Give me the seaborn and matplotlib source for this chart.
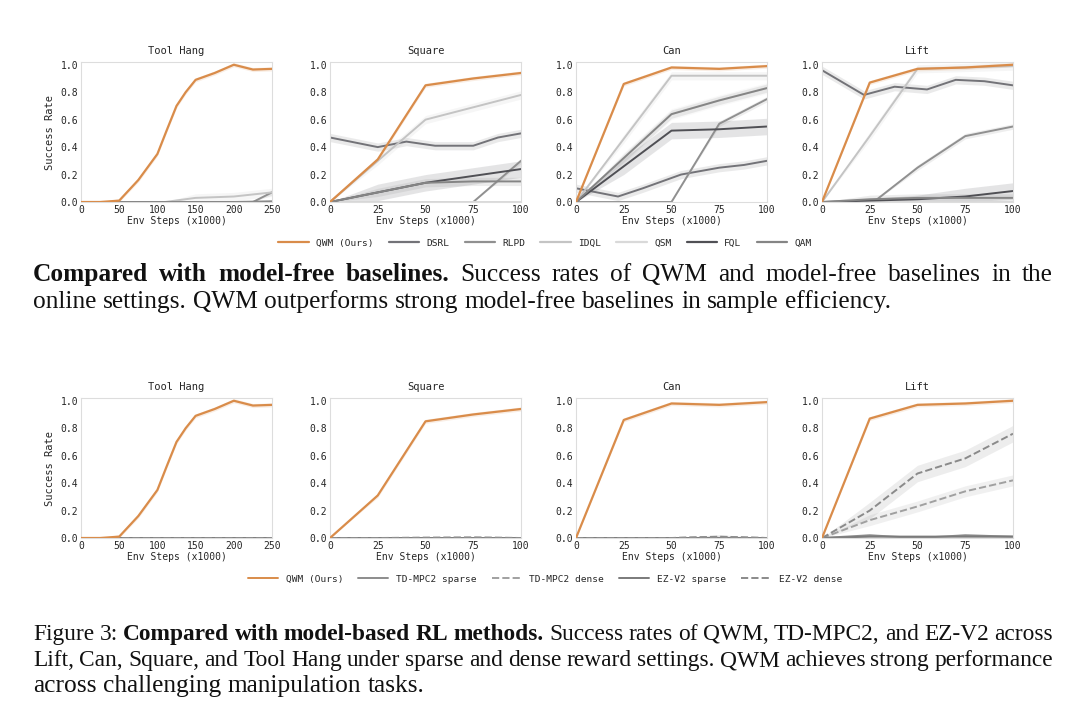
import numpy as np
import pandas as pd
import matplotlib
matplotlib.use("Agg")
import matplotlib.pyplot as plt
import seaborn as sns

sns.set_theme(style="white")
plt.rcParams['font.family'] = ['DejaVu Sans Mono']

tasks = ["Tool Hang", "Square", "Can", "Lift"]
x100 = [0, 25, 50, 75, 100]

# QWM (same in both rows)
qwm_x = {"Tool Hang": [0, 25, 50, 75, 100, 112, 125, 137, 150, 175, 200, 225, 250],
         "Square": x100, "Can": x100, "Lift": x100}
qwm_y = {"Tool Hang": [0, 0, 0.01, 0.16, 0.35, 0.52, 0.70, 0.80, 0.89, 0.94, 1.0, 0.965, 0.97],
         "Square": [0, 0.31, 0.85, 0.90, 0.94],
         "Can": [0, 0.86, 0.98, 0.97, 0.99],
         "Lift": [0, 0.87, 0.97, 0.98, 1.0]}

mf_methods = ["QWM (Ours)", "DSRL", "RLPD", "IDQL", "QSM", "FQL", "QAM"]
mf_colors = ["#d98c4a", "#737378", "#909090", "#c4c4c4", "#d9d9d9", "#505055", "#858585"]

th_x = [0, 50, 100, 110, 150, 200, 250]
mf = {
    "Tool Hang": {
        "DSRL": (th_x, [0, 0, 0, 0, 0, 0, 0]),
        "RLPD": ([0, 100, 225, 250], [0, 0, 0, 0.07]),
        "IDQL": (th_x, [0, 0, 0, 0, 0.03, 0.04, 0.07]),
        "QSM": (th_x, [0, 0, 0, 0, 0, 0, 0]),
        "FQL": (th_x, [0, 0, 0, 0, 0, 0, 0]),
        "QAM": (th_x, [0, 0, 0, 0, 0, 0, 0.005]),
    },
    "Square": {
        "DSRL": ([0, 25, 40, 55, 75, 88, 100], [0.47, 0.40, 0.44, 0.41, 0.41, 0.47, 0.50]),
        "RLPD": ([0, 50, 75, 100], [0, 0, 0, 0.30]),
        "IDQL": (x100, [0, 0.30, 0.60, 0.69, 0.78]),
        "QSM": (x100, [0, 0, 0, 0, 0]),
        "FQL": (x100, [0, 0.07, 0.14, 0.19, 0.24]),
        "QAM": (x100, [0, 0.07, 0.14, 0.15, 0.15]),
    },
    "Can": {
        "DSRL": ([0, 22, 35, 55, 75, 88, 100], [0.10, 0.04, 0.10, 0.20, 0.25, 0.27, 0.30]),
        "RLPD": ([0, 25, 50, 75, 100], [0, 0, 0, 0.57, 0.75]),
        "IDQL": (x100, [0, 0.46, 0.92, 0.92, 0.92]),
        "QSM": (x100, [0, 0.32, 0.64, 0.74, 0.83]),
        "FQL": (x100, [0, 0.26, 0.52, 0.53, 0.55]),
        "QAM": (x100, [0, 0.32, 0.64, 0.74, 0.83]),
    },
    "Lift": {
        "DSRL": ([0, 22, 38, 55, 70, 85, 100], [0.96, 0.78, 0.84, 0.82, 0.89, 0.88, 0.85]),
        "RLPD": ([0, 27, 50, 75, 100], [0, 0, 0.25, 0.48, 0.55]),
        "IDQL": (x100, [0, 0.48, 0.97, 0.98, 0.99]),
        "QSM": (x100, [0, 0, 0, 0, 0]),
        "FQL": (x100, [0, 0.01, 0.02, 0.04, 0.08]),
        "QAM": (x100, [0, 0.02, 0.03, 0.03, 0.03]),
    },
}
mf_band = {"DSRL": 0.03, "RLPD": 0.02, "IDQL": 0.03, "QSM": 0.04, "FQL": 0.06, "QAM": 0.03}

mb_methods = ["QWM (Ours)", "TD-MPC2 sparse", "TD-MPC2 dense", "EZ-V2 sparse", "EZ-V2 dense"]
mb_colors = ["#d98c4a", "#8c8c8c", "#a0a0a0", "#7a7a7a", "#8a8a8a"]
mb_styles = ["-", "-", "--", "-", "--"]
mb = {
    "Tool Hang": {"TD-MPC2 sparse": ([0, 250], [0, 0]), "TD-MPC2 dense": ([0, 250], [0, 0]),
                  "EZ-V2 sparse": ([0, 250], [0, 0]), "EZ-V2 dense": ([0, 250], [0, 0])},
    "Square": {"TD-MPC2 sparse": (x100, [0, 0, 0, 0, 0]), "TD-MPC2 dense": (x100, [0, 0, 0, 0.004, 0]),
               "EZ-V2 sparse": (x100, [0, 0, 0, 0, 0]), "EZ-V2 dense": (x100, [0, 0, 0.003, 0.003, 0])},
    "Can": {"TD-MPC2 sparse": (x100, [0, 0, 0, 0, 0]), "TD-MPC2 dense": (x100, [0, 0, 0, 0.01, 0]),
            "EZ-V2 sparse": (x100, [0, 0, 0, 0, 0]), "EZ-V2 dense": (x100, [0, 0, 0, 0.008, 0])},
    "Lift": {"TD-MPC2 sparse": (x100, [0, 0.02, 0.0, 0.02, 0.01]),
             "TD-MPC2 dense": (x100, [0, 0.13, 0.23, 0.34, 0.42]),
             "EZ-V2 sparse": (x100, [0, 0.01, 0.01, 0.01, 0.01]),
             "EZ-V2 dense": (x100, [0, 0.20, 0.47, 0.58, 0.76])},
}
mb_band = {"TD-MPC2 sparse": 0.01, "TD-MPC2 dense": 0.04, "EZ-V2 sparse": 0.01, "EZ-V2 dense": 0.06}

W, H = 1080, 720
fig = plt.figure(figsize=(10.8, 7.2), dpi=100)
lefts = [81, 330, 576, 822]
aw = 191


def style_ax(ax, task, first):
    ax.set_title(task, fontsize=7.5, pad=6)
    ax.set_ylim(0, 1.02)
    ax.set_yticks([0, 0.2, 0.4, 0.6, 0.8, 1.0])
    if task == "Tool Hang":
        ax.set_xlim(0, 250); ax.set_xticks([0, 50, 100, 150, 200, 250])
    else:
        ax.set_xlim(0, 100); ax.set_xticks(x100)
    ax.tick_params(labelsize=7, length=0, pad=2)
    ax.set_xlabel("Env Steps (x1000)", fontsize=7, labelpad=1)
    ax.set_ylabel("Success Rate" if first else "", fontsize=7.5)
    for s in ax.spines.values():
        s.set_color("#dddddd"); s.set_linewidth(0.8)


def draw_line(ax, x, y, color, ls, band, lw=1.4, z=2):
    df = pd.DataFrame({"x": x, "y": y})
    sns.lineplot(data=df, x="x", y="y", ax=ax, color=color, linestyle=ls, linewidth=lw, zorder=z)
    y = np.array(y, dtype=float)
    b = np.minimum(band, y * 1.5)
    ax.fill_between(x, np.clip(y - b, 0, None), y + b, color=color, alpha=0.15, lw=0)


for row, (top, methods) in enumerate([(62, mf), (398, mb)]):
    for i, task in enumerate(tasks):
        ax = fig.add_axes([lefts[i] / W, 1 - (top + 140) / H, aw / W, 140 / H])
        if row == 0:
            for m, c in zip(mf_methods[1:], mf_colors[1:]):
                x, y = mf[task][m]
                draw_line(ax, x, y, c, "-", mf_band[m])
        else:
            for m, c, ls in zip(mb_methods[1:], mb_colors[1:], mb_styles[1:]):
                x, y = mb[task][m]
                draw_line(ax, x, y, c, ls, mb_band[m])
        draw_line(ax, qwm_x[task], qwm_y[task], mf_colors[0], "-", 0.015, lw=1.6, z=5)
        style_ax(ax, task, i == 0)

from matplotlib.lines import Line2D
h1 = [Line2D([], [], color=c, lw=1.6) for c in mf_colors]
fig.legend(h1, mf_methods, loc="center", bbox_to_anchor=(545 / W, 1 - 243 / H), ncol=7,
           frameon=False, fontsize=6.8, handlelength=3.2, columnspacing=1.6)
h2 = [Line2D([], [], color=c, lw=1.4, ls=s) for c, s in zip(mb_colors, mb_styles)]
fig.legend(h2, mb_methods, loc="center", bbox_to_anchor=(545 / W, 1 - 579 / H), ncol=5,
           frameon=False, fontsize=6.8, handlelength=3.2, columnspacing=1.6)

serif = "Liberation Serif"
FS = 18.3
renderer = fig.canvas.get_renderer()
X0, X1 = 33, 1053


def line(parts, y, justify):
    words = []
    for txt, bold in parts:
        for w in txt.split():
            words.append((w, bold))
    fs = FS
    while True:
        ts, widths = [], []
        for w, bold in words:
            t = fig.text(0, 1 - y / H, w, fontsize=fs, family=serif,
                         weight="bold" if bold else "normal", va="baseline", color="#111111")
            ts.append(t)
            widths.append(t.get_window_extent(renderer).width)
        nat = fs * 100 / 72 * 0.25
        gaps = len(words) - 1
        sw = nat
        if justify and gaps > 0:
            sw = (X1 - X0 - sum(widths)) / gaps
            if sw < 0.8 * nat:
                for t in ts:
                    t.remove()
                fs -= 0.3
                continue
        break
    x = X0
    for t, wd in zip(ts, widths):
        t.set_x(x / W)
        x += wd + sw


line([("Compared with model-free baselines.", True),
      ("Success rates of QWM and model-free baselines in the", False)], 281, True)
line([("online settings. QWM outperforms strong model-free baselines in sample efficiency.", False)], 308, False)
line([("Figure 3:", False), ("Compared with model-based RL methods.", True),
      ("Success rates of QWM, TD-MPC2, and EZ-V2 across", False)], 640, True)
line([("Lift, Can, Square, and Tool Hang under sparse and dense reward settings. QWM achieves strong performance", False)], 666, True)
line([("across challenging manipulation tasks.", False)], 692, False)

fig.savefig("out.png", dpi=100, facecolor="white")
